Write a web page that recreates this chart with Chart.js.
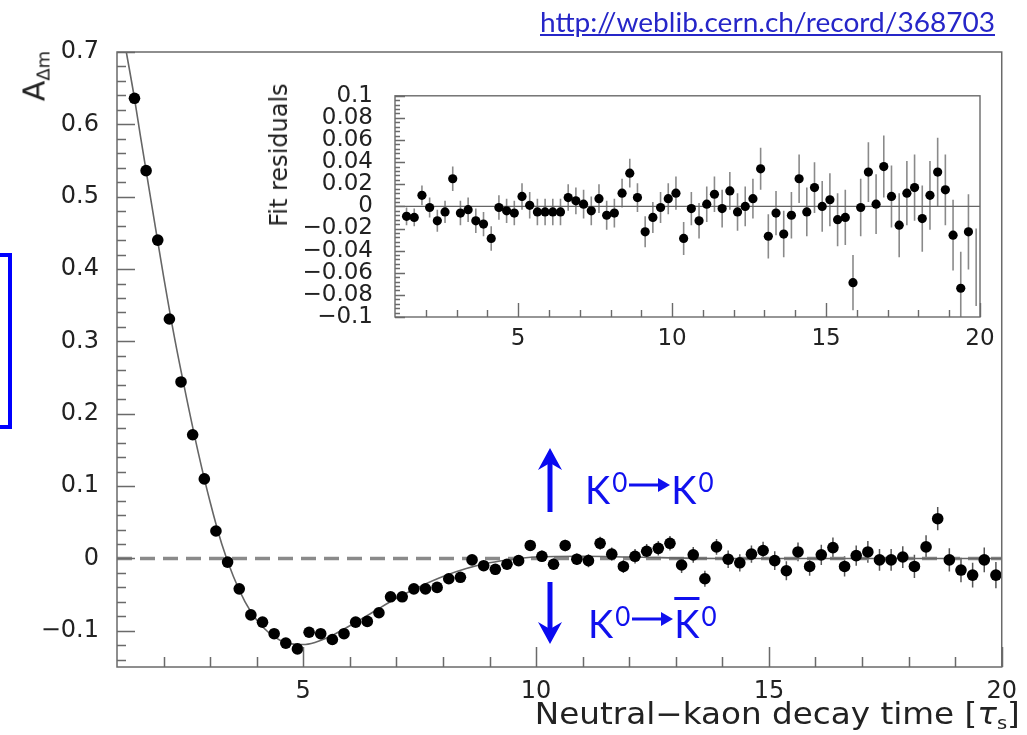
<!DOCTYPE html>
<html><head><meta charset="utf-8">
<script src="https://cdn.jsdelivr.net/npm/chart.js@4.4.1/dist/chart.umd.min.js"></script>
<style>
html,body{margin:0;padding:0;background:#fff;}
#wrap{position:relative;width:1027px;height:735px;overflow:hidden;background:#fff;}
canvas{position:absolute;}
#main{left:0;top:0;}
#inset{left:250px;top:60px;}
.txt{position:absolute;white-space:nowrap;line-height:1;}
#url{left:540px;top:8px;font-family:Lato,'Open Sans',sans-serif;font-size:27px;color:#2626c8;text-decoration:underline;transform-origin:left center;}
#bluebox{position:absolute;left:-20px;top:253px;width:32px;height:176px;box-sizing:border-box;border:4px solid #0000ff;}
.rot{position:absolute;transform:translate(-50%,-50%) rotate(-90deg);white-space:nowrap;line-height:1;font-family:'DejaVu Sans',sans-serif;color:#222;}
#ylab{left:36px;top:76px;font-size:30px;}
#ylab sub{font-size:18px;vertical-align:-5px;}
#resid{left:279px;top:155px;font-size:24px;}
#xlab{right:7px;top:699px;font-family:'DejaVu Sans',sans-serif;font-size:30px;color:#222;transform-origin:right center;}
#xlab sub{font-size:18px;vertical-align:-5px;}
.kt{position:absolute;font-family:Lato,'Open Sans',sans-serif;color:#1010ee;font-size:38px;line-height:1;white-space:nowrap;display:flex;align-items:flex-start;}
.kt .s{font-size:26px;margin-left:2px;margin-top:-1px;}
.kt svg{margin:0 1px;}
.ov{text-decoration:overline;}
</style></head><body>
<div id="wrap">
<canvas id="main" width="1027" height="735"></canvas>
<canvas id="inset" width="770" height="300"></canvas>
<div class="txt" id="url">http://weblib.cern.ch/record/368703</div>
<div id="bluebox"></div>
<div class="rot" id="ylab">A<sub>Δm</sub></div>
<div class="rot" id="resid">Fit residuals</div>
<div class="txt" id="xlab">Neutral−kaon decay time [<i>τ</i><sub>s</sub>]</div>
<svg style="position:absolute;left:0;top:0" width="1027" height="735">
  <g stroke="#0a0af0" stroke-width="5" fill="none" stroke-linecap="butt">
    <line x1="550" y1="512" x2="550" y2="462"/>
    <line x1="550" y1="582" x2="550" y2="630"/>
  </g>
  <g fill="#0a0af0">
    <polygon points="550,448 538,470 550,463 562,470"/>
    <polygon points="550,644 538,622 550,629 562,622"/>
  </g>
</svg>
<div class="kt" id="k1" style="left:585px;top:470px;">K<span class="s">0</span><svg width="42" height="30" viewBox="0 0 42 30"><line x1="1" y1="15" x2="32" y2="15" stroke="#1010ee" stroke-width="3"/><polygon points="42,15 30,8 30,22" fill="#1010ee"/></svg>K<span class="s">0</span></div>
<div class="kt" id="k2" style="left:588px;top:604px;">K<span class="s">0</span><svg width="42" height="30" viewBox="0 0 42 30"><line x1="1" y1="15" x2="32" y2="15" stroke="#1010ee" stroke-width="3"/><polygon points="42,15 30,8 30,22" fill="#1010ee"/></svg><span class="ov">K</span><span class="s">0</span></div>
</div>
<script>
// ---------- DATA ----------
const times = [1.375,1.625,1.875,2.125,2.375,2.625,2.875,3.125,3.375,3.625,3.875,
  4.125,4.375,4.625,4.875,5.125,5.375,5.625,5.875,6.125,6.375,
  6.625,6.875,7.125,7.375,7.625,7.875,8.125,8.375,8.625,8.875,
  9.125,9.375,9.625,9.875,10.125,10.375,10.625,10.875,11.125,11.375,
  11.625,11.875,12.125,12.375,12.625,12.875,13.125,13.375,13.625,13.875,
  14.125,14.375,14.625,14.875,15.125,15.375,15.625,15.875,16.125,16.375,
  16.625,16.875,17.125,17.375,17.625,17.875,18.125,18.375,18.625,18.875,
  19.125,19.375,19.625,19.875];
const asym = [0.636,0.536,0.440,0.331,0.244,0.171,0.110,0.038,-0.005,-0.042,-0.078,
  -0.088,-0.104,-0.117,-0.125,-0.102,-0.104,-0.112,-0.104,-0.088,-0.087,
  -0.075,-0.053,-0.053,-0.042,-0.042,-0.040,-0.028,-0.026,-0.002,-0.010,
  -0.015,-0.008,-0.003,0.018,0.003,-0.008,0.018,-0.001,-0.003,0.021,
  0.006,-0.011,0.003,0.010,0.014,0.021,-0.009,0.005,-0.028,0.016,
  -0.001,-0.006,0.006,0.011,-0.003,-0.017,0.009,-0.011,0.005,0.015,
  -0.011,0.004,0.009,-0.002,-0.002,0.002,-0.011,0.016,0.055,-0.002,
  -0.016,-0.023,-0.002,-0.023];
const asymErr = [0.003,0.003,0.003,0.003,0.003,0.003,0.003,0.003,0.003,0.003,0.003,
  0.003,0.003,0.003,0.003,0.003,0.003,0.003,0.003,0.003,0.004,
  0.004,0.004,0.005,0.005,0.005,0.005,0.006,0.006,0.006,0.006,
  0.007,0.007,0.007,0.007,0.008,0.008,0.008,0.008,0.009,0.009,
  0.009,0.009,0.010,0.010,0.010,0.010,0.011,0.011,0.011,0.011,
  0.012,0.012,0.012,0.012,0.013,0.013,0.013,0.013,0.014,0.014,
  0.014,0.014,0.015,0.015,0.015,0.015,0.016,0.016,0.016,0.016,
  0.017,0.017,0.017,0.018];
const fitT = [1.2,1.375,1.5,1.75,2.0,2.25,2.5,2.75,3.0,3.25,3.5,3.75,4.0,4.25,4.5,4.75,5.0,5.25,5.5,5.75,6.0,6.5,7.0,7.5,8.0,8.5,9.0,9.5,10.0,11.0,12.0,14.0,20.0];
const fitA = [0.700,0.636,0.585,0.487,0.390,0.300,0.220,0.145,0.078,0.020,-0.025,-0.060,-0.085,-0.102,-0.113,-0.118,-0.119,-0.116,-0.110,-0.102,-0.093,-0.074,-0.055,-0.039,-0.025,-0.014,-0.006,-0.001,0.002,0.003,0.002,0.000,0.000];
const residuals = [-0.009,-0.010,0.010,-0.001,-0.013,-0.005,0.025,-0.006,-0.003,-0.013,-0.016,
  -0.029,-0.001,-0.004,-0.006,0.009,0.001,-0.005,-0.005,-0.005,-0.005,
  0.008,0.005,0.002,-0.004,0.007,-0.008,-0.006,0.012,0.030,0.008,
  -0.023,-0.010,-0.001,0.007,0.012,-0.029,-0.002,-0.013,0.002,0.011,
  -0.002,0.014,-0.005,0.000,0.007,0.034,-0.027,-0.006,-0.025,-0.008,
  0.025,-0.005,0.017,0.000,0.006,-0.012,-0.010,-0.069,-0.001,0.031,
  0.002,0.036,0.009,-0.017,0.012,0.017,-0.011,0.010,0.031,0.015,
  -0.026,-0.074,-0.023,-0.055];
const residErr = [0.008,0.008,0.009,0.009,0.010,0.010,0.011,0.011,0.011,0.011,0.011,
  0.011,0.011,0.011,0.011,0.012,0.012,0.012,0.012,0.012,0.012,
  0.012,0.012,0.013,0.013,0.013,0.013,0.013,0.013,0.013,0.013,
  0.014,0.014,0.014,0.014,0.015,0.015,0.015,0.016,0.016,0.016,
  0.017,0.017,0.017,0.018,0.018,0.019,0.020,0.020,0.021,0.021,
  0.022,0.022,0.023,0.023,0.024,0.024,0.025,0.025,0.026,0.027,
  0.027,0.028,0.028,0.029,0.029,0.030,0.030,0.031,0.031,0.032,
  0.032,0.033,0.034,0.035];
const xRange = [1, 20];
const mainYRange = [-0.15, 0.7];
const insetYRange = [-0.1, 0.1];
const mainXTicks = [5, 10, 15, 20];
const mainYTicks = [-0.1, 0, 0.1, 0.2, 0.3, 0.4, 0.5, 0.6, 0.7];
const insetXTicks = [5, 10, 15, 20];
const insetYTicks = [-0.1, -0.08, -0.06, -0.04, -0.02, 0, 0.02, 0.04, 0.06, 0.08, 0.1];

// ---------- HELPERS ----------
const fmt = v => String(+v.toFixed(3)).replace('-', '\u2212');
function range(a, b, step) { const r = []; for (let v = a; v <= b + 1e-9; v += step) r.push(+v.toFixed(4)); return r; }
function fitWidth(id, w) { const el = document.getElementById(id); const cw = el.getBoundingClientRect().width; el.style.transform = 'scaleX(' + (w / cw) + ')'; }

const frameTicks = {
  id: 'frameTicks',
  afterDatasetsDraw(chart, args, o) {
    const { ctx, chartArea: a, scales: { x, y } } = chart;
    ctx.save();
    ctx.strokeStyle = o.color; ctx.lineWidth = o.width;
    ctx.beginPath();
    o.xMinor.forEach(v => { const p = Math.round(x.getPixelForValue(v)) + 0.5; ctx.moveTo(p, a.bottom); ctx.lineTo(p, a.bottom - o.xMinorLen); });
    o.xMajor.forEach(v => { const p = Math.round(x.getPixelForValue(v)) + 0.5; ctx.moveTo(p, a.bottom); ctx.lineTo(p, a.bottom - o.xMajorLen); });
    o.yMinor.forEach(v => { const p = Math.round(y.getPixelForValue(v)) + 0.5; ctx.moveTo(a.left, p); ctx.lineTo(a.left + o.yMinorLen, p); });
    o.yMajor.forEach(v => { const p = Math.round(y.getPixelForValue(v)) + 0.5; ctx.moveTo(a.left, p); ctx.lineTo(a.left + o.yMajorLen, p); });
    ctx.stroke();
    ctx.strokeRect(a.left, a.top, a.right - a.left, a.bottom - a.top);
    ctx.restore();
  }
};
const errBars = {
  id: 'errBars',
  beforeDatasetsDraw(chart, args, o) {
    const { ctx, chartArea: a, scales: { x, y } } = chart;
    ctx.save();
    ctx.beginPath(); ctx.rect(a.left, a.top, a.right - a.left, a.bottom - a.top); ctx.clip();
    ctx.strokeStyle = o.color; ctx.lineWidth = o.width;
    ctx.beginPath();
    o.xs.forEach((t, i) => {
      const px = x.getPixelForValue(t);
      ctx.moveTo(px, y.getPixelForValue(o.ys[i] - o.errs[i]));
      ctx.lineTo(px, y.getPixelForValue(o.ys[i] + o.errs[i]));
    });
    ctx.stroke();
    ctx.restore();
  }
};
Chart.defaults.font.family = "'DejaVu Sans', sans-serif";
Chart.defaults.color = '#222';

// ---------- MAIN CHART ----------
new Chart(document.getElementById('main'), {
  type: 'scatter',
  data: {
    datasets: [
      { data: times.map((t, i) => ({ x: t, y: asym[i] })), backgroundColor: '#000', borderColor: '#000', pointRadius: 5.8, pointBorderWidth: 0, order: 1 },
      { data: fitT.map((t, i) => ({ x: t, y: fitA[i] })), showLine: true, borderColor: '#666', borderWidth: 1.6, pointRadius: 0, cubicInterpolationMode: 'monotone', order: 2 },
      { data: xRange.map(t => ({ x: t, y: 0 })), showLine: true, borderColor: '#8a8a8a', borderWidth: 3.5, borderDash: [15, 8], pointRadius: 0, order: 3 }
    ]
  },
  options: {
    responsive: false, animation: false, events: [],
    layout: { padding: { left: 0, right: 19, top: 52, bottom: 0 } },
    plugins: {
      legend: { display: false }, tooltip: { enabled: false },
      errBars: { xs: times, ys: asym, errs: asymErr, color: '#555', width: 1.5 },
      frameTicks: { color: '#6a6a6a', width: 1.5,
        xMajor: mainXTicks, xMinor: range(2, 19, 1), xMajorLen: 20, xMinorLen: 10,
        yMajor: mainYTicks, yMinor: range(-0.14, 0.68, 0.02), yMajorLen: 18, yMinorLen: 9 }
    },
    scales: {
      x: { type: 'linear', min: xRange[0], max: xRange[1], grid: { display: false, drawTicks: false }, border: { display: false },
        ticks: { font: { size: 24 }, color: '#222', padding: 10, autoSkip: false, maxRotation: 0, callback: v => fmt(v) },
        afterBuildTicks: s => { s.ticks = mainXTicks.map(v => ({ value: v })); },
        afterFit: s => { s.height = 68; } },
      y: { type: 'linear', min: mainYRange[0], max: mainYRange[1], grid: { display: false, drawTicks: false }, border: { display: false },
        ticks: { font: { size: 24 }, color: '#222', padding: 18, autoSkip: false, callback: v => fmt(v) },
        afterBuildTicks: s => { s.ticks = mainYTicks.map(v => ({ value: v })); },
        afterFit: s => { s.width = 117; } }
    }
  },
  plugins: [errBars, frameTicks]
});

// ---------- INSET CHART ----------
new Chart(document.getElementById('inset'), {
  type: 'scatter',
  data: {
    datasets: [
      { data: times.map((t, i) => ({ x: t, y: residuals[i] })), backgroundColor: '#000', borderColor: '#000', pointRadius: times.map((t, i) => i === times.length - 1 ? 0 : 4.6), pointBorderWidth: 0, order: 1 },
      { data: xRange.map(t => ({ x: t, y: 0 })), showLine: true, borderColor: '#666', borderWidth: 1.2, pointRadius: 0, order: 2 }
    ]
  },
  options: {
    responsive: false, animation: false, events: [],
    layout: { padding: { left: 0, right: 40, top: 21, bottom: 0 } },
    plugins: {
      legend: { display: false }, tooltip: { enabled: false },
      errBars: { xs: times, ys: residuals, errs: residErr, color: '#8a8a8a', width: 1.6 },
      frameTicks: { color: '#6a6a6a', width: 1.4,
        xMajor: insetXTicks, xMinor: range(2, 19, 1), xMajorLen: 14, xMinorLen: 7,
        yMajor: insetYTicks, yMinor: range(-0.096, 0.096, 0.004), yMajorLen: 10, yMinorLen: 5 }
    },
    scales: {
      x: { type: 'linear', min: xRange[0], max: xRange[1], grid: { display: false, drawTicks: false }, border: { display: false },
        ticks: { font: { size: 23 }, color: '#222', padding: 8, autoSkip: false, maxRotation: 0, callback: v => fmt(v) },
        afterBuildTicks: s => { s.ticks = insetXTicks.map(v => ({ value: v })); },
        afterFit: s => { s.height = 43; } },
      y: { type: 'linear', min: insetYRange[0], max: insetYRange[1], grid: { display: false, drawTicks: false }, border: { display: false },
        ticks: { font: { size: 23 }, color: '#222', padding: 22, autoSkip: false, callback: v => fmt(v) },
        afterBuildTicks: s => { s.ticks = insetYTicks.map(v => ({ value: v })); },
        afterFit: s => { s.width = 145; } }
    }
  },
  plugins: [errBars, frameTicks]
});
fitWidth('url', 455);
fitWidth('xlab', 485);
</script>
</body></html>
